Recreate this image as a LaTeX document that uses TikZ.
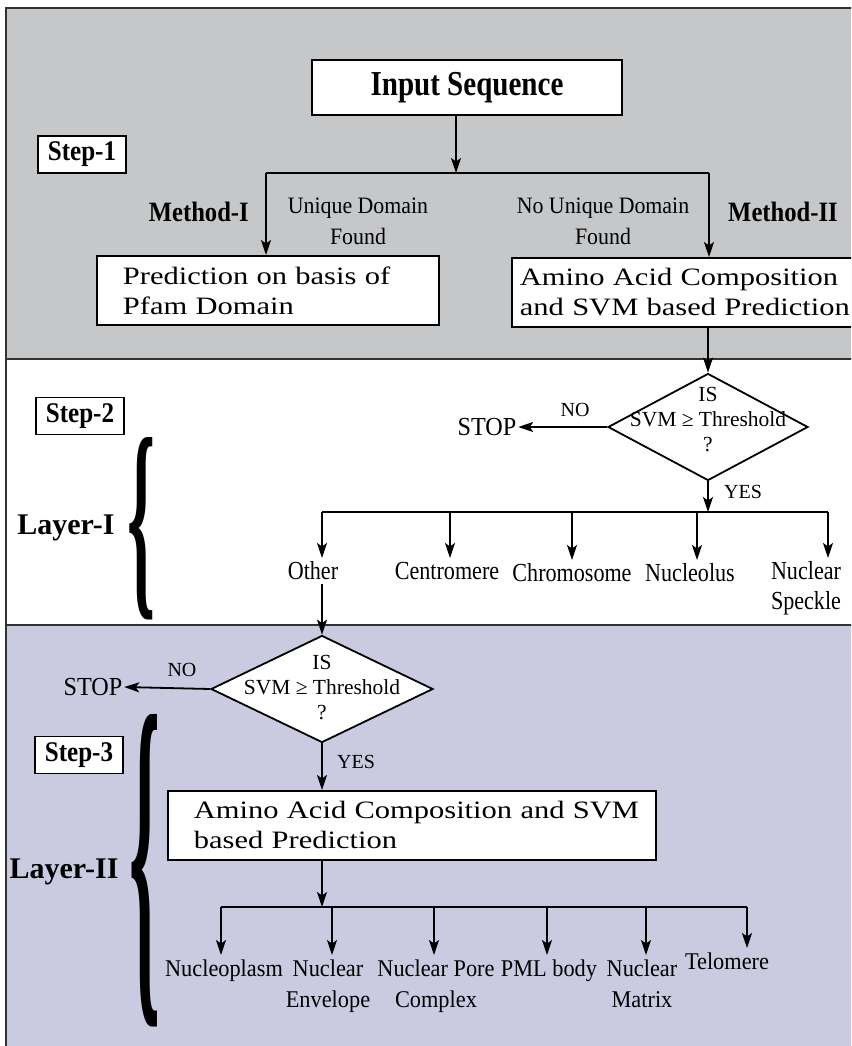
\documentclass[tikz,border=0pt]{standalone}
\usepackage{fontspec}
\usepackage{graphicx}
\setmainfont{Liberation Serif}
\newfontfamily\labafont[FakeStretch=0.85]{Liberation Serif}
\newfontfamily\labbfont[FakeStretch=0.93]{Liberation Serif}
\newfontfamily\stepfont[FakeStretch=0.88]{Liberation Serif}
\newfontfamily\inputfont[FakeStretch=0.83]{Liberation Serif}
\newfontfamily\widefont[FakeStretch=1.22]{Liberation Serif}
\usetikzlibrary{arrows.meta,shapes.geometric}
\definecolor{panelgrey}{RGB}{198,199,201}
\definecolor{panelblue}{RGB}{202,203,224}
\definecolor{framegrey}{RGB}{50,50,50}

\begin{document}
\begin{tikzpicture}[x=1pt,y=-1pt,line width=1.8pt,
  arr/.style={-{Stealth[length=15pt,width=10pt,inset=3.5pt]}},
  divider/.style={draw=framegrey,line width=2.6pt},
  inbox/.style={draw,fill=white,minimum width=310pt,minimum height=55pt,font=\inputfont\bfseries\fontsize{35}{40}\selectfont},
  bigbox/.style={draw,fill=white,anchor=north west,align=left,minimum height=69pt,inner xsep=26pt,font=\widefont\fontsize{25}{30}\selectfont},
  stepbox/.style={draw,fill=white,minimum width=88pt,minimum height=37pt,inner sep=0pt,font=\stepfont\bfseries\fontsize{28.5}{30}\selectfont},
  method/.style={font=\stepfont\bfseries\fontsize{28}{30}\selectfont},
  layer/.style={font=\bfseries\fontsize{30}{34}\selectfont},
  cond/.style={align=center,font=\labbfont\fontsize{23.5}{31}\selectfont},
  decision/.style={diamond,draw,fill=white,inner sep=0pt,minimum height=107pt},
  dtext/.style={align=center,inner sep=0pt,font=\fontsize{21.5}{25}\selectfont},
  stoptext/.style={inner sep=1pt,font=\labbfont\fontsize{26}{30}\selectfont},
  yesno/.style={font=\fontsize{20}{24}\selectfont},
  lab/.style={anchor=north,align=center,inner xsep=1pt,inner ysep=3pt,font=\labafont\fontsize{26}{30}\selectfont},
  labs/.style={anchor=north,align=center,inner xsep=1pt,inner ysep=4pt,font=\labbfont\fontsize{24}{31}\selectfont},
  brace/.style={inner sep=0pt,font=\bfseries}]
\useasboundingbox (0,0) rectangle (851,1046);
\clip (0,0) rectangle (851,1046);
\fill[panelgrey] (6,8) rectangle (860,359);
\fill[white] (6,359) rectangle (860,625);
\fill[panelblue] (6,625) rectangle (860,1060);
\draw[divider] (6,1060) -- (6,8) -- (860,8);
\draw[divider] (6,359) -- (860,359);
\draw[divider] (6,625) -- (860,625);
\node[inbox] (input) at (467,87.5) {Input Sequence};
\node[stepbox] (step1) at (82,154.5) {Step-1};
\coordinate (b1) at (456,173);
\coordinate (b1l) at (266,173);
\coordinate (b1r) at (709,173);
\node[method,anchor=east] (meth1) at (253,212) {Method-I};
\node[cond] (uniq) at (358,221) {Unique Domain\\Found};
\node[cond] (nouniq) at (603,221) {No Unique Domain\\Found};
\node[method,anchor=west] (meth2) at (724,212) {Method-II};
\node[bigbox,text width=290pt] (pfam) at (96,255) {Prediction on basis of\\Pfam Domain};
\node[bigbox,inner xsep=8pt,text width=360pt] (amino1) at (511,257) {Amino Acid Composition\\and SVM based Prediction};
\draw[arr] (input.south -| b1) -- (b1);
\draw (b1l) -- (b1r);
\draw[arr] (b1l) -- (pfam.north -| b1l);
\draw[arr] (b1r) -- (amino1.north -| b1r);
\node[stepbox] (step2) at (80,416) {Step-2};
\node[decision,minimum width=200pt] (d1) at (708,427) {};
\node[dtext] (d1t) at (708,420) {IS\\SVM ≥ Threshold\\?};
\node[stoptext] (stop1) at (487,427) {STOP};
\node[yesno] (no1) at (575,410) {NO};
\node[yesno,anchor=west] (yes1) at (720,492) {YES};
\draw[arr] (d1.north |- amino1.south) -- (d1.north);
\draw[arr] (d1.west) -- (stop1.east);
\coordinate (b2) at (708,512);
\coordinate (b2a) at (322,512);
\coordinate (b2b) at (450,512);
\coordinate (b2c) at (572,512);
\coordinate (b2d) at (697,512);
\coordinate (b2e) at (828,512);
\draw[arr] (d1.south) -- (b2);
\draw (b2a) -- (b2e);
\node[lab] (other) at (313,558) {Other};
\node[lab] (centro) at (447,558) {Centromere};
\node[lab] (chromo) at (572,560) {Chromosome};
\node[lab] (nucleo) at (690,560) {Nucleolus};
\node[lab] (speckle) at (806,558) {Nuclear\\Speckle};
\draw[arr] (b2a) -- (b2a |- other.north);
\draw[arr] (b2b) -- (b2b |- centro.north);
\draw[arr] (b2c) -- (b2c |- chromo.north);
\draw[arr] (b2d) -- (b2d |- nucleo.north);
\draw[arr] (b2e) -- (b2e |- speckle.north);
\node[layer] (layer1) at (66,528) {Layer-I};
\node[brace] (brace1) at (141.5,528.5) {\resizebox{28pt}{153pt}{\{}};
\node[decision,minimum width=222pt] (d2) at (322,689) {};
\node[dtext] (d2t) at (322,688) {IS\\SVM ≥ Threshold\\?};
\node[stoptext] (stop2) at (93,687) {STOP};
\node[yesno] (no2) at (182,670) {NO};
\node[yesno,anchor=west] (yes2) at (333,762) {YES};
\draw[arr] (b2a |- other.south) -- (d2.north);
\draw[arr] (d2.west) -- (stop2.east);
\node[stepbox] (step3) at (79,755) {Step-3};
\node[bigbox,text width=436pt] (amino2) at (167,790) {\mbox{Amino Acid Composition and SVM}\\based Prediction};
\draw[arr] (d2.south) -- (amino2.north -| d2.south);
\coordinate (b3) at (322,907);
\coordinate (b3a) at (221,907);
\coordinate (b3b) at (332,907);
\coordinate (b3c) at (434,907);
\coordinate (b3d) at (547,907);
\coordinate (b3e) at (646,907);
\coordinate (b3f) at (747,907);
\draw[arr] (amino2.south -| b3) -- (b3);
\draw (b3a) -- (b3f);
\node[labs] (plasm) at (224,955) {Nucleoplasm};
\node[labs] (envel) at (328,955) {Nuclear\\Envelope};
\node[labs] (pore) at (436,955) {Nuclear Pore\\Complex};
\node[labs] (pml) at (549,955) {PML body};
\node[labs] (matrix) at (642,955) {Nuclear\\Matrix};
\node[labs] (telo) at (727,948) {Telomere};
\draw[arr] (b3a) -- (b3a |- plasm.north);
\draw[arr] (b3b) -- (b3b |- envel.north);
\draw[arr] (b3c) -- (b3c |- pore.north);
\draw[arr] (b3d) -- (b3d |- pml.north);
\draw[arr] (b3e) -- (b3e |- matrix.north);
\draw[arr] (b3f) -- (b3f |- telo.north);
\node[layer] (layer2) at (64,872) {Layer-II};
\node[brace] (brace2) at (145,871) {\resizebox{31pt}{262pt}{\{}};
\end{tikzpicture}
\end{document}
